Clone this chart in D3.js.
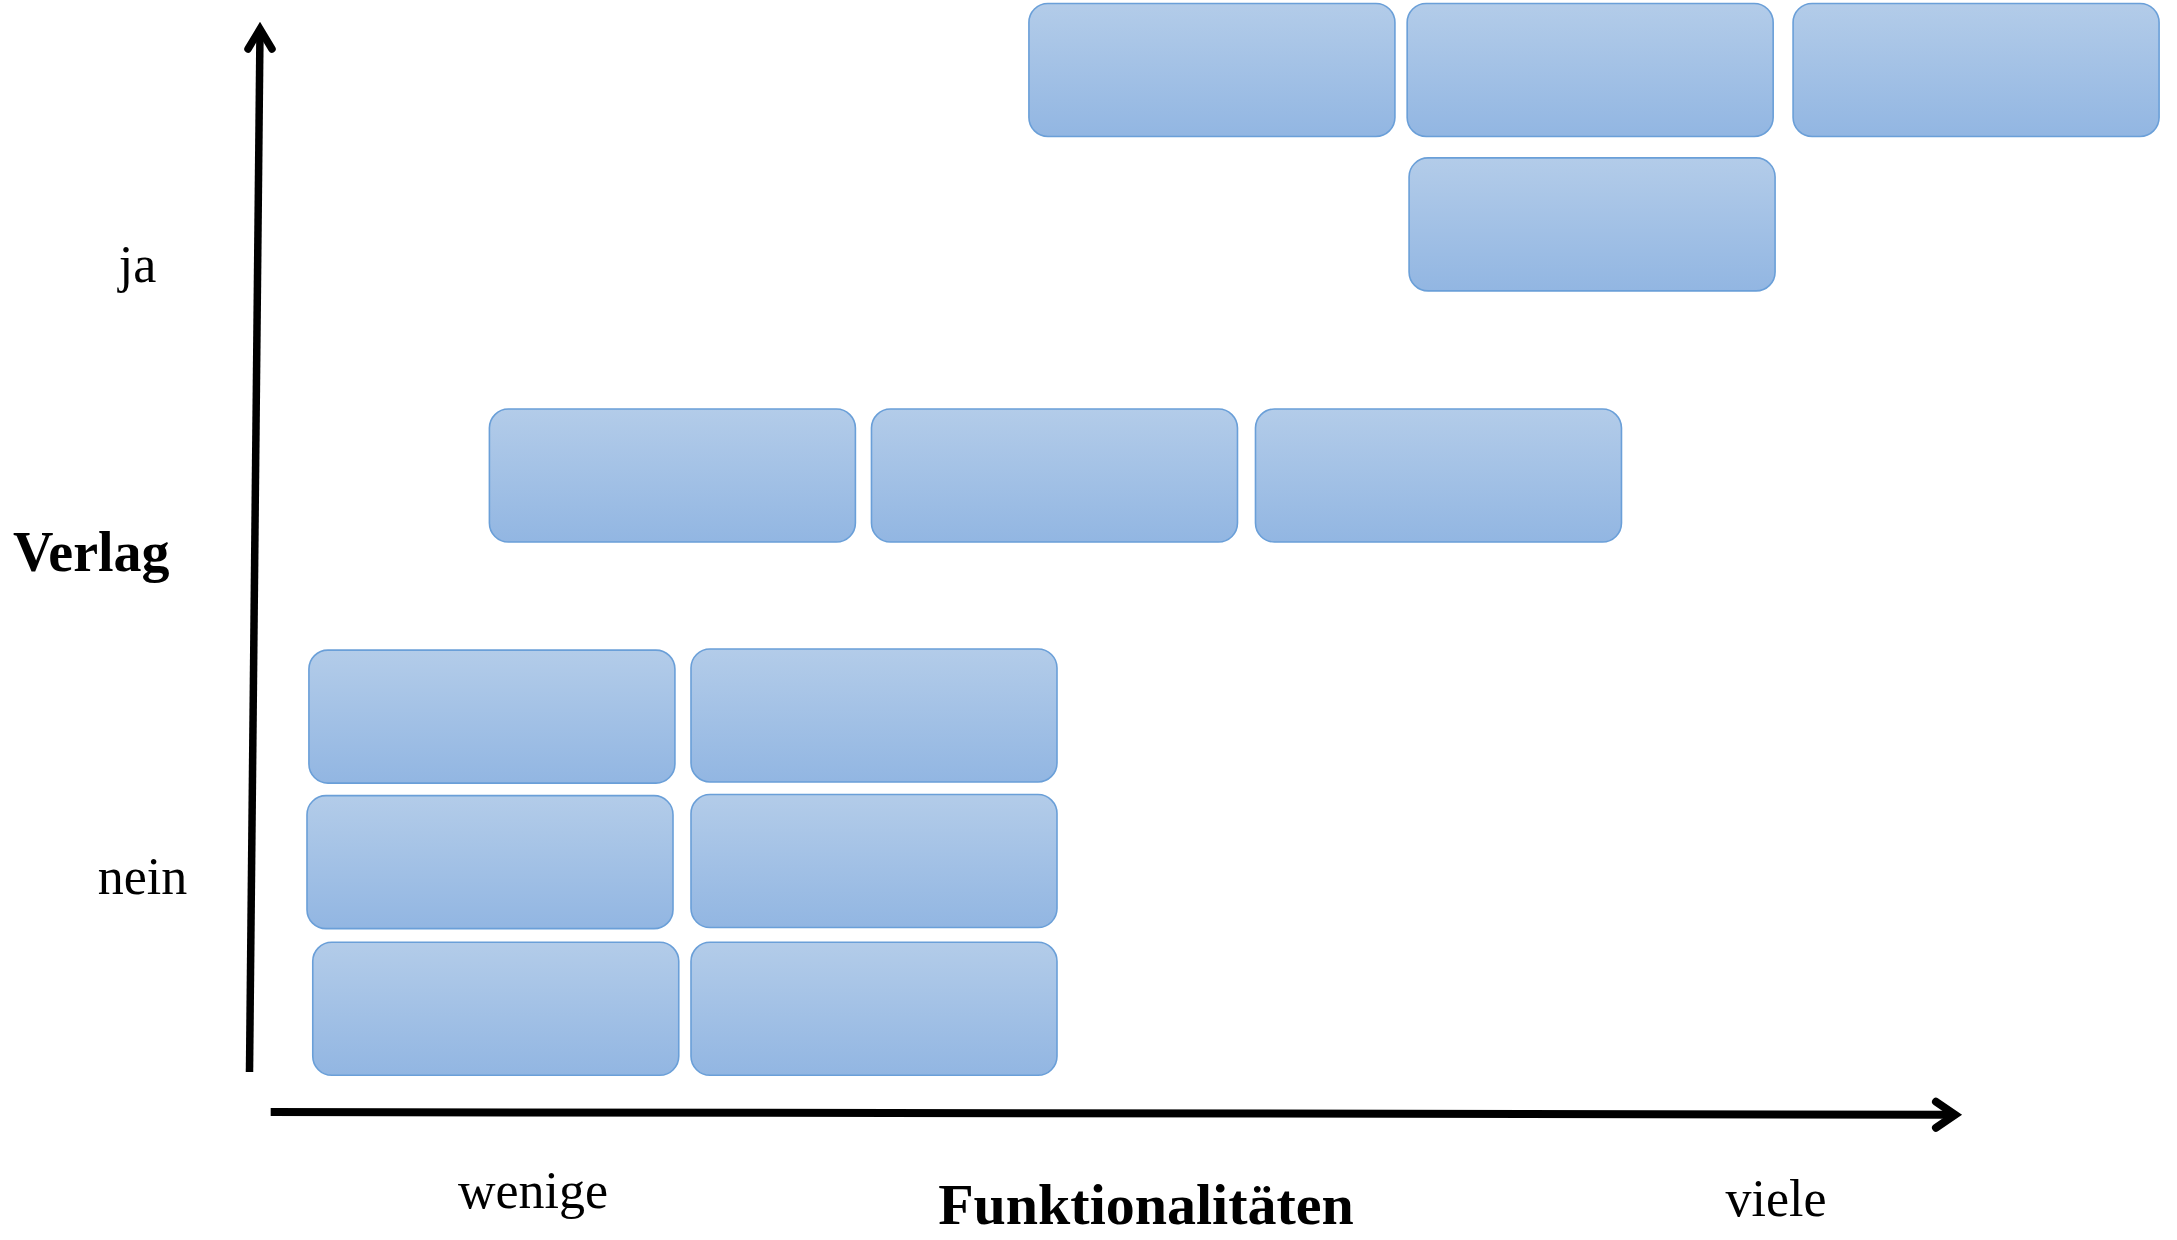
<!DOCTYPE html>
<html>
<head>
<meta charset="utf-8">
<script src="https://cdn.jsdelivr.net/npm/d3@7"></script>
<style>
  body { margin: 0; background: #fff; }
  text { font-family: "Liberation Serif", "DejaVu Serif", serif; fill: #000; }
</style>
</head>
<body>
<div id="chart"></div>
<script>
// Positioning chart: Funktionalitäten (x) against Verlag (y).

var width = 2177;
var height = 1240;

/* Data: one entry per box, position on the two axes (0 - 100). */
var funktionalitaet = [12.6, 12.5, 12.8, 32.5, 32.5, 32.5, 22.0, 41.9, 61.9, 50.1, 69.8, 89.9, 69.9];
var verlag = [35.5, 22.4, 9.2, 35.6, 22.5, 9.2, 57.2, 57.2, 57.2, 93.7, 93.7, 93.7, 79.8];

var xTickLabels = ["wenige", "viele"];
var xTickValues = [14.74, 79.48];
var yTickLabels = ["nein", "ja"];
var yTickValues = [19.53, 74.66];
var xTitle = "Funktionalitäten";
var yTitle = "Verlag";

var boxes = funktionalitaet.map(function(f, i) { return { f: f, v: verlag[i] }; });

var x = d3.scaleLinear().domain([0, 100]).range([250, 2170]);
var y = d3.scaleLinear().domain([0, 100]).range([1111, 0]);

var boxW = 366, boxH = 133; // pixel size of one box

var svg = d3.select("#chart")
    .append("svg")
    .attr("width", width)
    .attr("height", height);

var defs = svg.append("defs");
var grad = defs.append("linearGradient")
    .attr("id", "boxfill")
    .attr("x1", 0).attr("y1", 0)
    .attr("x2", 0).attr("y2", 1);
grad.append("stop").attr("offset", "0%").attr("stop-color", "#b3cce9");
grad.append("stop").attr("offset", "100%").attr("stop-color", "#92b6e2");

// Boxes
svg.selectAll("rect.box")
    .data(boxes)
    .enter()
    .append("rect")
    .attr("class", "box")
    .attr("x", function(d) { return x(d.f) - boxW / 2; })
    .attr("y", function(d) { return y(d.v) - boxH / 2; })
    .attr("width", boxW)
    .attr("height", boxH)
    .attr("rx", 19)
    .attr("ry", 19)
    .style("fill", "url(#boxfill)")
    .style("stroke", "#6a9fd8")
    .style("stroke-width", 1.6);

/* Axes drawn as hand arrows. */
// y axis (slightly tilted, as in the original)
svg.append("line")
    .attr("x1", 249.5).attr("y1", 1072)
    .attr("x2", 260).attr("y2", 30)
    .style("stroke", "#000")
    .style("stroke-width", 7.5);
svg.append("polyline")
    .attr("points", "248,49 260,29 272,49")
    .style("fill", "none")
    .style("stroke", "#000")
    .style("stroke-width", 7.5)
    .style("stroke-linecap", "round")
    .style("stroke-linejoin", "miter");

// x axis
svg.append("line")
    .attr("x1", 270.7).attr("y1", 1112)
    .attr("x2", 1954).attr("y2", 1114.7)
    .style("stroke", "#000")
    .style("stroke-width", 8);
svg.append("polyline")
    .attr("points", "1936,1101.8 1955,1114.7 1936,1127.7")
    .style("fill", "none")
    .style("stroke", "#000")
    .style("stroke-width", 8)
    .style("stroke-linecap", "round")
    .style("stroke-linejoin", "miter");

// Tick labels
svg.selectAll("text.ylab")
    .data(yTickLabels)
    .enter()
    .append("text")
    .attr("class", "ylab")
    .attr("x", function(d, i) { return i == 0 ? 142.5 : 137.5; })
    .attr("y", function(d, i) { return y(yTickValues[i]); })
    .attr("text-anchor", "middle")
    .style("font-size", "52px")
    .text(function(d) { return d; });

svg.selectAll("text.xlab")
    .data(xTickLabels)
    .enter()
    .append("text")
    .attr("class", "xlab")
    .attr("x", function(d, i) { return x(xTickValues[i]); })
    .attr("y", function(d, i) { return i == 0 ? 1208 : 1216; })
    .attr("text-anchor", "middle")
    .style("font-size", "52px")
    .text(function(d) { return d; });

// Axis titles
svg.append("text")
    .attr("x", 13)
    .attr("y", 571)
    .style("font-size", "56px")
    .style("font-weight", "bold")
    .text(yTitle);

svg.append("text")
    .attr("x", 1146)
    .attr("y", 1224)
    .attr("text-anchor", "middle")
    .style("font-size", "58px")
    .style("font-weight", "bold")
    .text(xTitle);
</script>
</body>
</html>
